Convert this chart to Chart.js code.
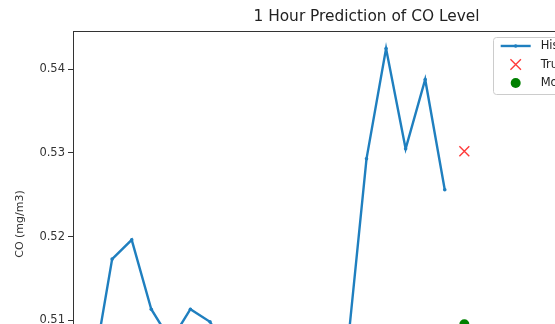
<!DOCTYPE html>
<html>
<head>
<meta charset="utf-8">
<script src="https://cdn.jsdelivr.net/npm/chart.js@4.4.1/dist/chart.umd.min.js"></script>
<style>
  html, body { margin: 0; padding: 0; background: #fff; overflow: hidden; }
  canvas { display: block; }
</style>
</head>
<body>
<canvas id="chart" width="740" height="445"></canvas>
<script>
// Hourly CO readings (mg/m3) for the 20 steps before the forecast point
const historySteps = [-20, -19, -18, -17, -16, -15, -14, -13, -12, -11,
                      -10, -9, -8, -7, -6, -5, -4, -3, -2, -1];
const historyValues = [0.5030, 0.5036, 0.5173, 0.5196, 0.5113, 0.5075, 0.5113, 0.5098, 0.5060, 0.5030,
                       0.5005, 0.5015, 0.5025, 0.5040, 0.5060, 0.5293, 0.5425, 0.5305, 0.5388, 0.5256];
// One-hour-ahead target and the model's forecast
const futureSteps = [0];
const trueFutureValues = [0.5302];
const predictionValues = [0.5095];

const seriesLabels = ['History', 'True Future', 'Model Prediction'];
const yTickValues = [0.50, 0.51, 0.52, 0.53, 0.54];
const xTickValues = [-20, -15, -10, -5, 0, 5, 10];
const xRange = [-20, 10];

const FONT = 'DejaVu Sans';
const INK = '#333333';

// y limits with a 5% margin around all plotted values
const allValues = historyValues.concat(trueFutureValues, predictionValues);
const dataMin = Math.min(...allValues);
const dataMax = Math.max(...allValues);
const margin = (dataMax - dataMin) * 0.05;

const toPoints = (xs, ys) => xs.map((x, i) => ({ x: x, y: ys[i] }));

// Frame around the plot area (all four spines)
const framePlugin = {
  id: 'frame',
  afterDraw(chart) {
    const { ctx, chartArea: a } = chart;
    ctx.save();
    ctx.strokeStyle = INK;
    ctx.lineWidth = 1;
    ctx.strokeRect(Math.round(a.left) + 0.5, Math.round(a.top) + 0.5,
                   Math.round(a.right - a.left), Math.round(a.bottom - a.top));
    ctx.restore();
  }
};

// Boxed legend in the upper-right corner of the plot area
const cornerLegend = {
  id: 'cornerLegend',
  afterDraw(chart) {
    const { ctx, chartArea: a } = chart;
    const sets = chart.data.datasets;
    ctx.save();
    ctx.font = '11.5px "' + FONT + '"';
    const textW = Math.max(...sets.map(d => ctx.measureText(d.label).width));
    const pad = 8, handle = 30, gap = 10, rowH = 18.5;
    const w = pad + handle + gap + textW + pad;
    const h = pad * 2 + rowH * (sets.length - 1) + 4;
    const x0 = a.right - 16 - w;
    const y0 = a.top + 6;
    ctx.fillStyle = 'rgba(255,255,255,0.8)';
    ctx.strokeStyle = '#cccccc';
    ctx.lineWidth = 1;
    ctx.beginPath();
    ctx.roundRect(Math.round(x0) + 0.5, Math.round(y0) + 0.5, w, h, 3);
    ctx.fill();
    ctx.stroke();
    sets.forEach((d, i) => {
      const cy = y0 + pad + 1 + i * rowH;
      const hx = x0 + pad;
      const cx = hx + handle / 2;
      if (d.showLine !== false) {
        ctx.strokeStyle = d.borderColor;
        ctx.lineWidth = d.borderWidth;
        ctx.beginPath();
        ctx.moveTo(hx, cy);
        ctx.lineTo(hx + handle, cy);
        ctx.stroke();
        ctx.fillStyle = d.borderColor;
        ctx.beginPath();
        ctx.arc(cx, cy, d.pointRadius, 0, Math.PI * 2);
        ctx.fill();
      } else if (d.pointStyle === 'crossRot') {
        const r = d.pointRadius;
        ctx.strokeStyle = d.borderColor;
        ctx.lineWidth = d.borderWidth;
        ctx.beginPath();
        ctx.moveTo(cx - r * 0.75, cy - r * 0.75);
        ctx.lineTo(cx + r * 0.75, cy + r * 0.75);
        ctx.moveTo(cx + r * 0.75, cy - r * 0.75);
        ctx.lineTo(cx - r * 0.75, cy + r * 0.75);
        ctx.stroke();
      } else {
        ctx.fillStyle = d.backgroundColor;
        ctx.beginPath();
        ctx.arc(cx, cy, d.pointRadius, 0, Math.PI * 2);
        ctx.fill();
      }
      ctx.fillStyle = '#222222';
      ctx.textBaseline = 'middle';
      ctx.textAlign = 'left';
      ctx.fillText(d.label, hx + handle + gap, cy + 0.5);
    });
    ctx.restore();
  }
};

new Chart(document.getElementById('chart'), {
  type: 'scatter',
  data: {
    datasets: [
      {
        label: seriesLabels[0],
        data: toPoints(historySteps, historyValues),
        showLine: true,
        borderColor: '#1f7fbf',
        backgroundColor: '#1f7fbf',
        borderWidth: 2.4,
        pointRadius: 1.8,
        pointStyle: 'circle',
        pointBorderWidth: 0,
        tension: 0
      },
      {
        label: seriesLabels[1],
        data: toPoints(futureSteps, trueFutureValues),
        showLine: false,
        pointStyle: 'crossRot',
        pointRadius: 7,
        borderColor: '#ff3a3a',
        backgroundColor: '#ff3a3a',
        borderWidth: 1.4
      },
      {
        label: seriesLabels[2],
        data: toPoints(futureSteps, predictionValues),
        showLine: false,
        pointStyle: 'circle',
        pointRadius: 5,
        borderWidth: 0,
        borderColor: '#008000',
        backgroundColor: '#008000'
      }
    ]
  },
  options: {
    responsive: false,
    animation: false,
    devicePixelRatio: 1,
    layout: { padding: { left: 0, right: 80, top: 0, bottom: 0 } },
    plugins: {
      legend: { display: false },
      tooltip: { enabled: false },
      title: {
        display: true,
        text: '1 Hour Prediction of CO Level',
        fullSize: false,
        color: '#222222',
        font: { family: FONT, size: 15.4, weight: 'normal', lineHeight: 1.2 },
        padding: { top: 8, bottom: 4.5 }
      }
    },
    scales: {
      x: {
        type: 'linear',
        min: xRange[0],
        max: xRange[1],
        afterBuildTicks(scale) { scale.ticks = xTickValues.map(v => ({ value: v })); },
        afterFit(scale) { scale.height = 28; },
        border: { display: false },
        grid: { display: true, drawOnChartArea: false, drawTicks: true, tickLength: 5, color: INK },
        ticks: { color: INK, padding: 3, font: { family: FONT, size: 11.5 } }
      },
      y: {
        type: 'linear',
        min: dataMin - margin,
        max: dataMax + margin,
        afterBuildTicks(scale) { scale.ticks = yTickValues.map(v => ({ value: v })); },
        afterFit(scale) { scale.width = 73; },
        border: { display: false },
        grid: { display: true, drawOnChartArea: false, drawTicks: true, tickLength: 5, color: INK },
        ticks: {
          color: INK,
          padding: 3,
          font: { family: FONT, size: 11.5 },
          callback: v => v.toFixed(2)
        },
        title: {
          display: true,
          text: 'CO (mg/m3)',
          color: INK,
          font: { family: FONT, size: 11 },
          padding: { top: 14, bottom: 0 }
        }
      }
    }
  },
  plugins: [framePlugin, cornerLegend]
});
</script>
</body>
</html>
